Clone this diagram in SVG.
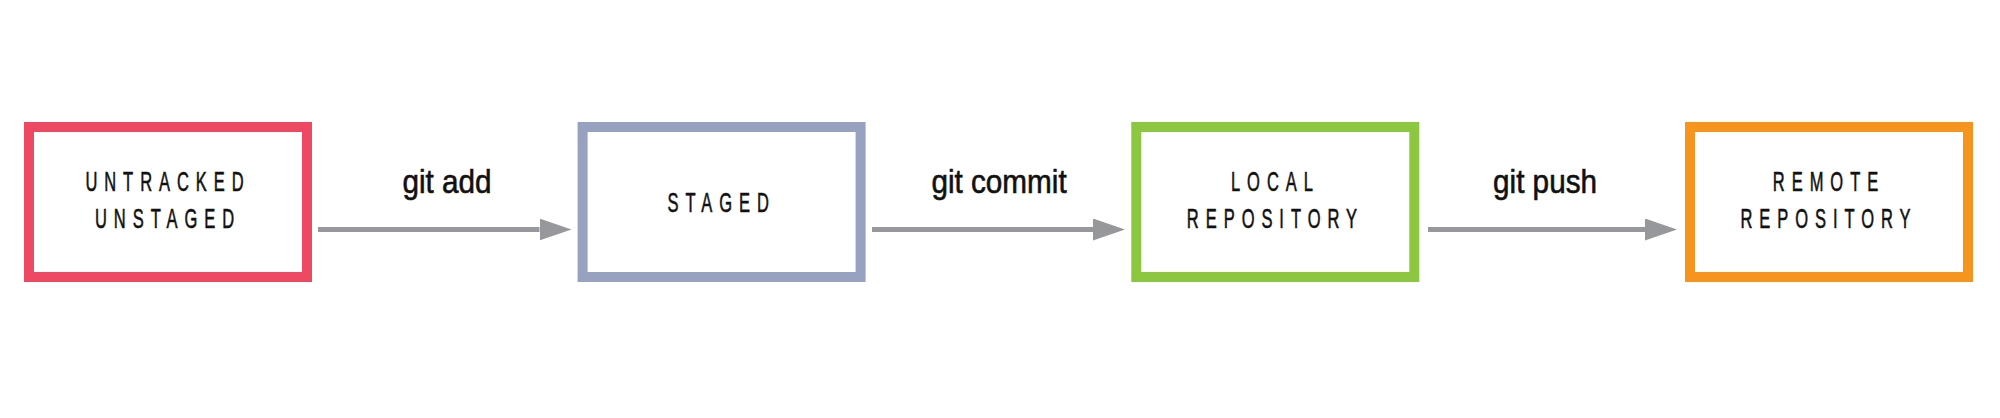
<svg xmlns="http://www.w3.org/2000/svg" width="2000" height="418" viewBox="0 0 2000 418">
<defs>
<style>
.box{fill:#fff;stroke-width:10}
.nt{font-family:"Liberation Sans",Arial,sans-serif;font-size:27.5px;letter-spacing:11.6px;fill:#111;stroke:#111;stroke-width:0.6px;text-anchor:middle}
.lb{font-family:"Liberation Sans",Arial,sans-serif;font-size:33px;fill:#111;stroke:#111;stroke-width:0.6px;text-anchor:middle}
.ar{stroke:#97989b;stroke-width:5;fill:none}
</style>
<marker id="ah" markerUnits="userSpaceOnUse" markerWidth="32" markerHeight="22" refX="0" refY="11" orient="auto">
<path d="M0,0 L32,11 L0,22 Z" fill="#97989b"/>
</marker>
</defs>
<rect width="2000" height="418" fill="#fff"/>
<g id="connectors">
<line class="ar" x1="318" y1="229.5" x2="539.5" y2="229.5" marker-end="url(#ah)"/>
<line class="ar" x1="872" y1="229.5" x2="1093" y2="229.5" marker-end="url(#ah)"/>
<line class="ar" x1="1428" y1="229.5" x2="1645" y2="229.5" marker-end="url(#ah)"/>
<text class="lb" transform="translate(447,193) scale(0.9,1)">git add</text>
<text class="lb" transform="translate(999,193) scale(0.9,1)">git commit</text>
<text class="lb" transform="translate(1545,193) scale(0.9,1)">git push</text>
</g>
<g id="untracked">
<rect class="box" x="29" y="127" width="278" height="150" stroke="#ef4862"/>
<text class="nt" transform="translate(168,191) scale(0.6,1)">UNTRACKED</text>
<text class="nt" transform="translate(168,227.5) scale(0.6,1)">UNSTAGED</text>
</g>
<g id="staged">
<rect class="box" x="582.6" y="127" width="278" height="150" stroke="#97a2c0"/>
<text class="nt" transform="translate(721.6,212) scale(0.6,1)">STAGED</text>
</g>
<g id="local">
<rect class="box" x="1136.3" y="127" width="278" height="150" stroke="#8dc63f"/>
<text class="nt" transform="translate(1275.4,191) scale(0.6,1)">LOCAL</text>
<text class="nt" transform="translate(1275.4,228) scale(0.6,1)">REPOSITORY</text>
</g>
<g id="remote">
<rect class="box" x="1690" y="127" width="278" height="150" stroke="#f7941d"/>
<text class="nt" transform="translate(1829,191) scale(0.6,1)">REMOTE</text>
<text class="nt" transform="translate(1829,228) scale(0.6,1)">REPOSITORY</text>
</g>
</svg>
